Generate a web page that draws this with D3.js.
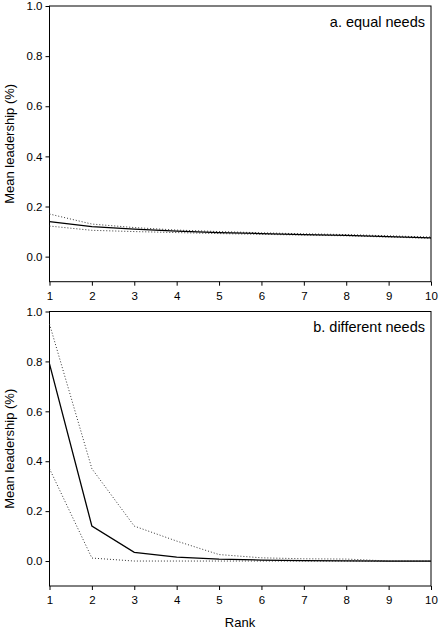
<!DOCTYPE html>
<html><head><meta charset="utf-8">
<script src="https://cdn.jsdelivr.net/npm/d3@7"></script>
<style>body{margin:0;background:#fff}svg{display:block}text{font-family:"Liberation Sans",Arial,sans-serif}</style>
</head><body>
<svg id="c" width="440" height="632"></svg>
<script>
const ranks = [1,2,3,4,5,6,7,8,9,10];
const yTicks = [0.0,0.2,0.4,0.6,0.8,1.0];
const equalMean  = [0.140,0.120,0.110,0.102,0.096,0.092,0.088,0.085,0.080,0.075];
const equalUpper = [0.170,0.130,0.116,0.106,0.100,0.095,0.091,0.088,0.083,0.078];
const equalLower = [0.122,0.105,0.100,0.096,0.092,0.089,0.086,0.083,0.078,0.073];
const diffMean  = [0.790,0.140,0.035,0.016,0.008,0.004,0.002,0.001,0.000,0.000];
const diffUpper = [0.950,0.370,0.140,0.080,0.026,0.013,0.009,0.008,0.000,0.000];
const diffLower = [0.370,0.012,0.000,0.000,0.000,0.000,0.000,0.000,0.000,0.000];
const panels = [
  {label:"a. equal needs", mean:equalMean, upper:equalUpper, lower:equalLower, top:6, bottom:281.7},
  {label:"b. different needs", mean:diffMean, upper:diffUpper, lower:diffLower, top:311.5, bottom:586}
];
const svg = d3.select("#c");
const x = d3.scaleLinear().domain([1,10]).range([49.5,431]);
panels.forEach(p=>{
  const y = d3.scaleLinear().domain([-0.1,1.0]).range([p.bottom,p.top]);
  const g = svg.append("g");
  g.append("rect").attr("x",x.range()[0]).attr("y",y(1.0)).attr("width",x.range()[1]-x.range()[0]).attr("height",y(-0.1)-y(1.0))
    .attr("fill","none").attr("stroke","#000").attr("stroke-width",1);
  const ya = d3.axisLeft(y).tickValues(yTicks).tickFormat(d3.format(".1f")).tickSize(4).tickPadding(3);
  const yg = g.append("g").attr("transform",`translate(${x.range()[0]},0)`).call(ya);
  yg.select(".domain").remove();
  yg.selectAll("text").attr("font-size",11.5).attr("fill","#000");
  const xa = d3.axisBottom(x).tickValues(ranks).tickFormat(d3.format("d")).tickSize(4).tickPadding(6);
  const xg = g.append("g").attr("transform",`translate(0,${y(-0.1)})`).call(xa);
  xg.select(".domain").remove();
  xg.selectAll("text").attr("font-size",11.5).attr("fill","#000");
  const line = d3.line().x((d,i)=>x(ranks[i])).y(d=>y(d));
  g.append("path").datum(p.upper).attr("d",line).attr("fill","none").attr("stroke","#333").attr("stroke-width",1).attr("stroke-dasharray","1,2");
  g.append("path").datum(p.lower).attr("d",line).attr("fill","none").attr("stroke","#333").attr("stroke-width",1).attr("stroke-dasharray","1,2");
  g.append("path").datum(p.mean).attr("d",line).attr("fill","none").attr("stroke","#000").attr("stroke-width",1.3);
  g.append("text").attr("x",425).attr("y",p.top+20.5).attr("text-anchor","end").attr("font-size",14.5).text(p.label);
  g.append("text").attr("transform",`translate(13.5,${(y(1.0)+y(-0.1))/2}) rotate(-90)`).attr("text-anchor","middle").attr("font-size",13).text("Mean leadership (%)");
});
svg.append("text").attr("x",240).attr("y",627).attr("text-anchor","middle").attr("font-size",13).text("Rank");
</script>
</body></html>
